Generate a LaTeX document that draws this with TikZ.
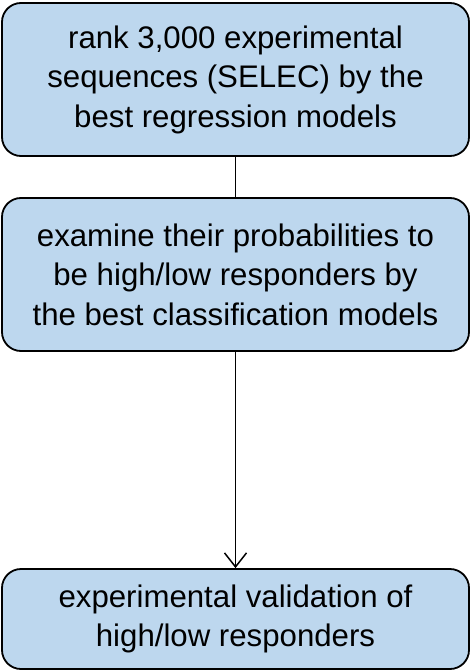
\documentclass[tikz,border=0pt]{standalone}
\usepackage{fontspec}
\setmainfont{Liberation Sans}
\usetikzlibrary{arrows.meta}
\definecolor{boxblue}{RGB}{189,215,238}
\begin{document}
\begin{tikzpicture}[x=1pt,y=1pt,
  stepbox/.style={draw=black, line width=1.8pt, fill=boxblue, rounded corners=19pt,
    minimum width=467pt, inner sep=0pt, align=center,
    font=\fontsize{31.2}{39.5}\selectfont},
  conn/.style={draw=black, line width=1.6pt}]
\useasboundingbox (0,0) rectangle (474,-671);
\node[stepbox, minimum height=153pt] (a) at (235.5,-79.5)
  {rank 3,000 experimental\\sequences (SELEC) by the\\best regression models};
\node[stepbox, minimum height=153pt] (b) at (235.5,-274.5)
  {examine their probabilities to\\be high/low responders by\\the best classification models};
\node[stepbox, minimum height=100pt] (c) at (235.5,-619)
  {experimental validation of\\high/low responders};
\draw[conn] (a) -- (b);
\draw[conn, -{Straight Barb[length=14pt,width=22pt,line width=1.5pt]}] (b) -- (c);
\end{tikzpicture}
\end{document}
